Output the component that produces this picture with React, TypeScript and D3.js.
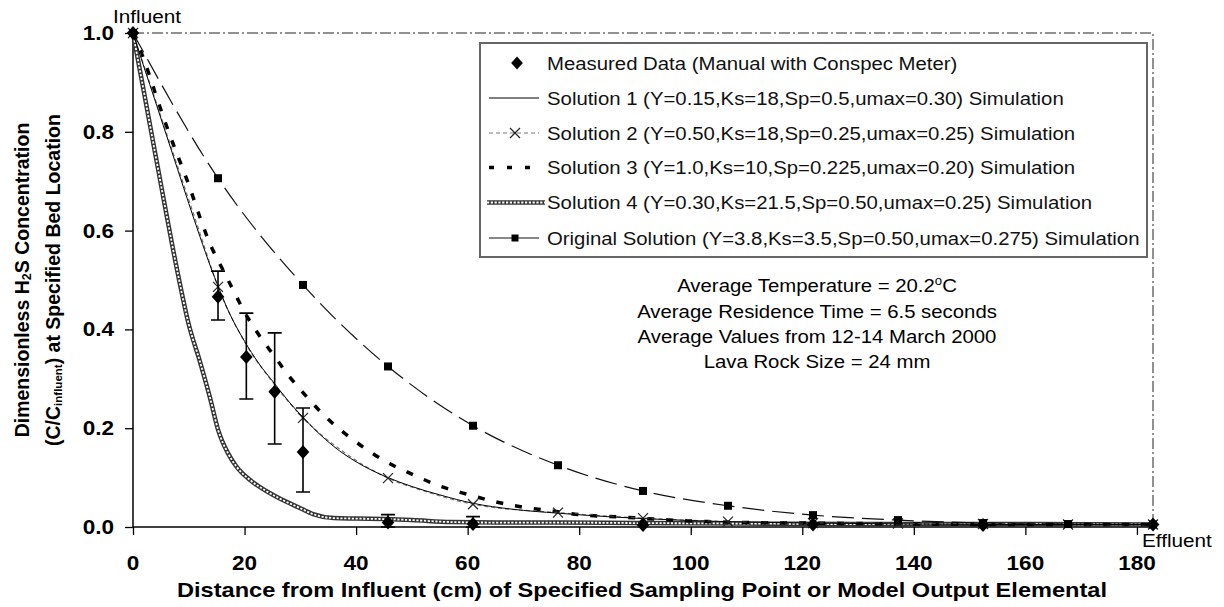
import React, { useEffect, useRef } from "react"
import * as d3 from "d3"

const W = 1224
const H = 607

// measured data (diamonds) with error bars
const measuredX = [0, 15.24, 20.32, 25.4, 30.48, 45.72, 60.96, 91.44, 121.92, 152.4, 182.88]
const measuredY = [1.0, 0.466, 0.344, 0.274, 0.152, 0.009, 0.006, 0.004, 0.005, 0.004, 0.005]
const measuredLow = [1.0, 0.419, 0.259, 0.168, 0.071, 0, 0, 0.004, 0.005, 0.004, 0.005]
const measuredHigh = [1.0, 0.518, 0.433, 0.393, 0.241, 0.025, 0.021, 0.004, 0.005, 0.004, 0.005]

// Solution 1 (solid)
const sol1X = [0, 2, 4, 6, 8, 10, 12, 14, 15.24, 17, 20, 22.5, 25.4, 28, 30.48, 33, 36, 40, 45.72, 50, 55, 60.96, 68, 76.2, 85, 91.44, 100, 110, 122, 140, 160, 182.88]
const sol1Y = [1, 0.93, 0.862, 0.793, 0.724, 0.655, 0.588, 0.524, 0.488, 0.44, 0.376, 0.332, 0.29, 0.253, 0.222, 0.193, 0.163, 0.132, 0.1, 0.082, 0.065, 0.048, 0.036, 0.028, 0.021, 0.017, 0.013, 0.01, 0.008, 0.006, 0.005, 0.005]

// Solution 2 (grey dashed, x markers every 15.24 cm)
const sol2X = [0, 4, 8, 12, 15.24, 20, 25.4, 30.48, 38, 45.72, 53, 60.96, 76.2, 91.44, 106.68, 121.92, 137.16, 152.4, 167.64, 182.88]
const sol2Y = [1, 0.865, 0.73, 0.595, 0.486, 0.375, 0.288, 0.221, 0.15, 0.099, 0.07, 0.046, 0.029, 0.018, 0.011, 0.008, 0.007, 0.006, 0.005, 0.005]
const markerStep = 15.24

// Solution 3 (thick dashes)
const sol3X = [0, 2, 4, 6, 8, 10, 12, 14, 15.24, 17.5, 20, 22.5, 25.4, 28, 30.48, 35, 40, 45.72, 50, 55, 60, 65, 70, 76.2, 80, 88, 95, 103, 110, 120, 140, 160, 182.88]
const sol3Y = [1, 0.945, 0.878, 0.812, 0.752, 0.693, 0.627, 0.568, 0.54, 0.49, 0.435, 0.39, 0.345, 0.305, 0.272, 0.218, 0.172, 0.13, 0.107, 0.083, 0.066, 0.051, 0.04, 0.031, 0.025, 0.02, 0.015, 0.011, 0.009, 0.008, 0.006, 0.005, 0.005]

// Solution 4 (chain)
const sol4X = [0, 2, 4, 6, 8, 10, 12, 13.8, 15.3, 17, 18.5, 21, 24, 26.4, 30, 32.3, 36, 40, 45, 50, 57, 65, 76, 90, 110, 130, 150, 182.88]
const sol4Y = [1, 0.878, 0.755, 0.633, 0.515, 0.41, 0.335, 0.262, 0.195, 0.15, 0.123, 0.095, 0.072, 0.057, 0.038, 0.026, 0.018, 0.017, 0.016, 0.014, 0.01, 0.009, 0.009, 0.008, 0.007, 0.006, 0.006, 0.005]

// Original solution (long dashes, squares)
const origX = [0, 15.24, 30.48, 45.72, 60.96, 76.2, 91.44, 106.68, 121.92, 137.16, 152.4, 167.64, 182.88]
const origY = [1.0, 0.706, 0.49, 0.325, 0.205, 0.125, 0.073, 0.043, 0.024, 0.014, 0.008, 0.006, 0.005]

const xTicks = [0, 20, 40, 60, 80, 100, 120, 140, 160, 180]
const yTicks = [0, 0.2, 0.4, 0.6, 0.8, 1.0]

const legendLabels = [
  "Measured Data (Manual with Conspec Meter)",
  "Solution 1 (Y=0.15,Ks=18,Sp=0.5,umax=0.30) Simulation",
  "Solution 2 (Y=0.50,Ks=18,Sp=0.25,umax=0.25) Simulation",
  "Solution 3 (Y=1.0,Ks=10,Sp=0.225,umax=0.20) Simulation",
  "Solution 4 (Y=0.30,Ks=21.5,Sp=0.50,umax=0.25) Simulation",
  "Original Solution (Y=3.8,Ks=3.5,Sp=0.50,umax=0.275) Simulation"
]

const notes = [
  "Average Residence Time = 6.5 seconds",
  "Average Values from 12-14 March 2000",
  "Lava Rock Size = 24 mm"
]

const FONT = "'Liberation Sans', Arial, Helvetica, sans-serif"

export default function App() {
  const ref = useRef<SVGSVGElement>(null)

  useEffect(() => {
    const svg = d3.select(ref.current)
    svg.selectAll("*").remove()

    const left = 133
    const right = 1153
    const top = 33
    const bottom = 527

    const x = d3.scaleLinear().domain([0, 182.88]).range([left, right])
    const y = d3.scaleLinear().domain([0, 1]).range([bottom, top])

    svg.append("rect").attr("width", W).attr("height", H).attr("fill", "#fff")

    // dash-dot frame on top and right
    svg.append("path")
      .attr("d", `M${left},${top}H${right}V${bottom}`)
      .attr("fill", "none")
      .attr("stroke", "#222")
      .attr("stroke-width", 1)
      .attr("stroke-dasharray", "11,3,2,3")

    // axes
    const gx = svg.append("g").attr("transform", `translate(0,${bottom})`)
    gx.call(d3.axisBottom(x).tickValues(xTicks).tickSize(8).tickFormat(() => ""))
    const gy = svg.append("g").attr("transform", `translate(${left},0)`)
    gy.call(d3.axisLeft(y).tickValues(yTicks).tickSize(8).tickFormat(() => ""))
    svg.selectAll(".domain").attr("stroke", "#000").attr("stroke-width", 1.5)
    svg.selectAll(".tick line").attr("stroke", "#000").attr("stroke-width", 1.3)
    gx.select(".domain").attr("d", `M${left},0H${right}`)
    gy.select(".domain").attr("d", `M0,${bottom}V${top}`)

    const txt = (g: any, px: number, py: number, s: string, size: number, sx: number, anchor: string, weight = "normal") =>
      g.append("text")
        .attr("transform", `translate(${px},${py}) scale(${sx},1)`)
        .attr("text-anchor", anchor)
        .attr("font-family", FONT)
        .attr("font-size", size)
        .attr("font-weight", weight)
        .attr("fill", "#000")
        .text(s)

    xTicks.forEach(t => txt(svg, x(t), 570, String(t), 20.5, 1.1, "middle", "bold"))
    yTicks.forEach(t => txt(svg, 114, y(t) + 7, d3.format(".1f")(t), 20.5, 1.1, "end", "bold"))

    // x title
    svg.append("text")
      .attr("x", 177).attr("y", 597)
      .attr("font-family", FONT).attr("font-size", 20.5).attr("font-weight", "bold")
      .attr("textLength", 930).attr("lengthAdjust", "spacingAndGlyphs")
      .text("Distance from Influent (cm) of Specified Sampling Point or Model Output Elemental")

    // y title
    const yt1 = svg.append("text")
      .attr("transform", `translate(29,${(top + bottom) / 2}) rotate(-90)`)
      .attr("text-anchor", "middle")
      .attr("font-family", FONT).attr("font-size", 19.5).attr("font-weight", "bold")
    yt1.append("tspan").text("Dimensionless H")
    yt1.append("tspan").attr("font-size", 12.5).attr("dy", 2).text("2")
    yt1.append("tspan").attr("dy", -2).text("S Concentration")
    const yt2 = svg.append("text")
      .attr("transform", `translate(60,${(top + bottom) / 2}) rotate(-90)`)
      .attr("text-anchor", "middle")
      .attr("font-family", FONT).attr("font-size", 19.5).attr("font-weight", "bold")
    yt2.append("tspan").text("(C/C")
    yt2.append("tspan").attr("font-size", 11.5).attr("dy", 2).text("influent")
    yt2.append("tspan").attr("dy", -2).text(") at Specified Bed Location")

    const line = (xs: number[], ys: number[], curve: any) =>
      d3.line<number>().x((d, i) => x(xs[i])).y(d => y(d)).curve(curve)(ys)

    const plot = svg.append("g")

    // solution 4 chain
    const p4 = line(sol4X, sol4Y, d3.curveMonotoneX)
    plot.append("path").attr("d", p4).attr("fill", "none").attr("stroke", "#333").attr("stroke-width", 4.5)
    plot.append("path").attr("d", p4).attr("fill", "none").attr("stroke", "#fff").attr("stroke-width", 1.8).attr("stroke-dasharray", "2.2,1.6")

    // original solution
    plot.append("path").attr("d", line(origX, origY, d3.curveMonotoneX))
      .attr("fill", "none").attr("stroke", "#111").attr("stroke-width", 1.2).attr("stroke-dasharray", "22,8")

    // solution 3
    plot.append("path").attr("d", line(sol3X, sol3Y, d3.curveMonotoneX))
      .attr("fill", "none").attr("stroke", "#000").attr("stroke-width", 3.5).attr("stroke-dasharray", "7,12")

    // solution 2
    plot.append("path").attr("d", line(sol2X, sol2Y, d3.curveMonotoneX))
      .attr("fill", "none").attr("stroke", "#777").attr("stroke-width", 1.2).attr("stroke-dasharray", "4,3")

    // solution 1
    plot.append("path").attr("d", line(sol1X, sol1Y, d3.curveMonotoneX))
      .attr("fill", "none").attr("stroke", "#000").attr("stroke-width", 1)

    const cross = (g: any, cx: number, cy: number, r: number) =>
      g.append("path").attr("d", `M${cx - r},${cy - r}L${cx + r},${cy + r}M${cx - r},${cy + r}L${cx + r},${cy - r}`)
        .attr("stroke", "#222").attr("stroke-width", 1.2).attr("fill", "none")
    const square = (g: any, cx: number, cy: number, s: number) =>
      g.append("rect").attr("x", cx - s / 2).attr("y", cy - s / 2).attr("width", s).attr("height", s).attr("fill", "#000")
    const diamond = (g: any, cx: number, cy: number, r: number) =>
      g.append("path").attr("d", `M${cx},${cy - r}L${cx + r * 0.9},${cy}L${cx},${cy + r}L${cx - r * 0.9},${cy}Z`).attr("fill", "#000")

    // markers
    sol2X.forEach((v, i) => {
      const k = v / markerStep
      if (Math.abs(k - Math.round(k)) < 1e-6) cross(plot, x(v), y(sol2Y[i]), 5)
    })
    origX.forEach((v, i) => square(plot, x(v), y(origY[i]), 8))

    // error bars + measured diamonds
    measuredX.forEach((v, i) => {
      const lo = measuredLow[i]
      const hi = measuredHigh[i]
      if (hi > lo) {
        const cx = x(v)
        plot.append("path")
          .attr("d", `M${cx},${y(lo)}V${y(hi)}M${cx - 7},${y(hi)}H${cx + 7}M${cx - 7},${y(lo)}H${cx + 7}`)
          .attr("stroke", "#000").attr("stroke-width", 1.6).attr("fill", "none")
      }
      diamond(plot, x(v), y(measuredY[i]), 7)
    })

    // legend
    const lg = svg.append("g")
    lg.append("rect").attr("x", 480).attr("y", 43).attr("width", 667).attr("height", 214)
      .attr("fill", "#fff").attr("stroke", "#666").attr("stroke-width", 2)
    const rows = [63, 98, 133, 167.5, 202.5, 238]
    const sx0 = 489
    const sx1 = 539
    const mid = 515
    diamond(lg, mid + 2, rows[0], 6.5)
    lg.append("line").attr("x1", sx0).attr("x2", sx1).attr("y1", rows[1]).attr("y2", rows[1]).attr("stroke", "#000").attr("stroke-width", 1)
    lg.append("line").attr("x1", sx0).attr("x2", sx1).attr("y1", rows[2]).attr("y2", rows[2]).attr("stroke", "#777").attr("stroke-width", 1.2).attr("stroke-dasharray", "4,3")
    cross(lg, mid, rows[2], 5)
    lg.append("line").attr("x1", sx0).attr("x2", sx1 + 4).attr("y1", rows[3]).attr("y2", rows[3]).attr("stroke", "#000").attr("stroke-width", 3.5).attr("stroke-dasharray", "5,13")
    lg.append("line").attr("x1", sx0 - 2).attr("x2", sx1 + 6).attr("y1", rows[4]).attr("y2", rows[4]).attr("stroke", "#333").attr("stroke-width", 4.5)
    lg.append("line").attr("x1", sx0 - 2).attr("x2", sx1 + 6).attr("y1", rows[4]).attr("y2", rows[4]).attr("stroke", "#fff").attr("stroke-width", 1.8).attr("stroke-dasharray", "2.2,1.6")
    lg.append("line").attr("x1", sx0).attr("x2", sx1).attr("y1", rows[5]).attr("y2", rows[5]).attr("stroke", "#111").attr("stroke-width", 1.2)
    square(lg, mid, rows[5], 7)
    legendLabels.forEach((s, i) => txt(lg, 547, rows[i] + 6.5, s, 18.5, 1.1, "start").attr("fill", "#111"))

    // notes
    const n0 = txt(svg, 817, 291.5, "Average Temperature = 20.2", 18.5, 1.1, "middle")
    n0.append("tspan").attr("font-size", 12).attr("dy", -7).text("o")
    n0.append("tspan").attr("dy", 7).text("C")
    notes.forEach((s, i) => txt(svg, 817, 318 + i * 25, s, 18.5, 1.1, "middle"))

    txt(svg, 147, 23, "Influent", 18.5, 1.12, "middle")
    txt(svg, 1142, 547, "Effluent", 18.5, 1.12, "start")
  }, [])

  return <svg ref={ref} width={W} height={H} style={{ position: "absolute", left: 0, top: 0, background: "#fff" }} />
}
